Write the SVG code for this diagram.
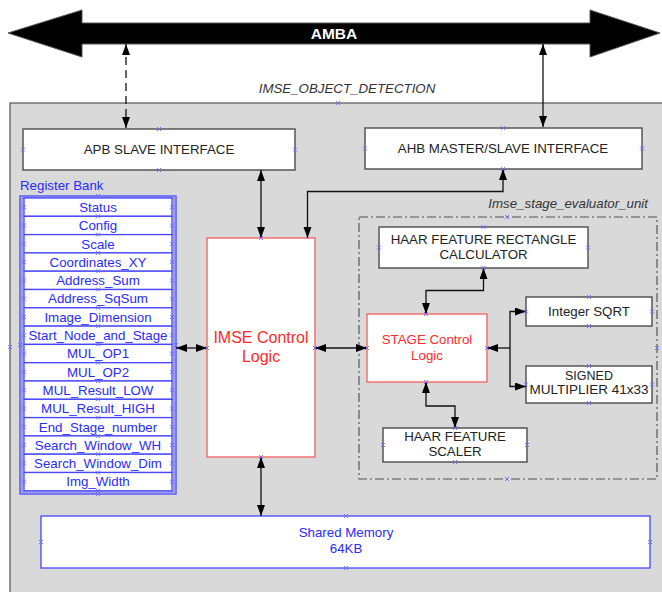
<svg xmlns="http://www.w3.org/2000/svg" xmlns:xlink="http://www.w3.org/1999/xlink" width="662" height="592" viewBox="0 0 662 592">
<style>
.box{fill:#fff;stroke:#555;stroke-width:1.5}
.red{fill:#fff;stroke:#f07070;stroke-width:1.5}
.blu{fill:#fff;stroke:#4646ff;stroke-width:1.3}
.t{font-family:"Liberation Sans",Arial,sans-serif;font-size:13.3px;fill:#222;text-anchor:middle}
.tb{font-family:"Liberation Sans",Arial,sans-serif;font-size:13.3px;fill:#2a2aff;text-anchor:middle}
.tr{font-family:"Liberation Sans",Arial,sans-serif;fill:#ff2a2a;text-anchor:middle}
.it{font-family:"Liberation Sans",Arial,sans-serif;font-size:13.3px;font-style:italic;fill:#333}
.c{fill:none;stroke:#111;stroke-width:1.3;marker-start:url(#ah);marker-end:url(#ah)}
.c1{fill:none;stroke:#111;stroke-width:1.3;marker-end:url(#ah)}
.cpx{fill:none;stroke:#6a6aff;stroke-width:0.9}
</style>
<defs>
<marker id="ah" markerUnits="userSpaceOnUse" markerWidth="12" markerHeight="9" refX="11" refY="4" orient="auto-start-reverse" viewBox="0 0 12 9">
<path d="M0,0 L11,4 L0,8 z" fill="#000"/>
</marker>
<path id="cp" class="cpx" d="M-2,-2L2,2M-2,2L2,-2"/>
</defs>

<g id="amba">
<polygon points="8,33 82,10 82,23 590,23 590,10 660,33 590,57 590,44 82,44 82,57" fill="#000" stroke="#555" stroke-width="1"/>
<text x="334" y="39" font-family="Liberation Sans,Arial,sans-serif" font-size="15.5" font-weight="bold" fill="#fff" text-anchor="middle">AMBA</text>
</g>

<g id="imse_object_detection">
<rect x="10" y="103" width="660" height="490" fill="#d9d9d9" stroke="#555" stroke-width="1.2"/>
<text class="it" x="347" y="93" text-anchor="middle">IMSE_OBJECT_DETECTION</text>
</g>

<g id="apb">
<rect class="box" x="23" y="129" width="272" height="41"/>
<text class="t" x="159" y="154">APB SLAVE INTERFACE</text>
</g>

<g id="ahb">
<rect class="box" x="365" y="128" width="277" height="41"/>
<text class="t" x="503" y="153">AHB MASTER/SLAVE INTERFACE</text>
</g>

<g id="register_bank">
<text x="20" y="190" font-family="Liberation Sans,Arial,sans-serif" font-size="13.3" fill="#2a2aff">Register Bank</text>
<rect x="20" y="196" width="156" height="298" fill="none" stroke="#4646ff" stroke-width="1.3"/>
<rect x="22" y="198" width="152" height="294" fill="none" stroke="#4646ff" stroke-width="0.8"/>
<g id="reg_status"><rect class="blu" x="24" y="198" width="148" height="18.3"/><text class="tb" x="98" y="211.9">Status</text></g>
<g id="reg_config"><rect class="blu" x="24" y="216.3" width="148" height="18.3"/><text class="tb" x="98" y="230.2">Config</text></g>
<g id="reg_scale"><rect class="blu" x="24" y="234.6" width="148" height="18.3"/><text class="tb" x="98" y="248.5">Scale</text></g>
<g id="reg_coord"><rect class="blu" x="24" y="252.9" width="148" height="18.3"/><text class="tb" x="98" y="266.8">Coordinates_XY</text></g>
<g id="reg_addrsum"><rect class="blu" x="24" y="271.2" width="148" height="18.3"/><text class="tb" x="98" y="285.1">Address_Sum</text></g>
<g id="reg_addrsq"><rect class="blu" x="24" y="289.5" width="148" height="18.3"/><text class="tb" x="98" y="303.4">Address_SqSum</text></g>
<g id="reg_imgdim"><rect class="blu" x="24" y="307.8" width="148" height="18.3"/><text class="tb" x="98" y="321.7">Image_Dimension</text></g>
<g id="reg_start"><rect class="blu" x="24" y="326.1" width="148" height="18.3"/><text class="tb" x="98" y="340">Start_Node_and_Stage</text></g>
<g id="reg_op1"><rect class="blu" x="24" y="344.4" width="148" height="18.3"/><text class="tb" x="98" y="358.3">MUL_OP1</text></g>
<g id="reg_op2"><rect class="blu" x="24" y="362.7" width="148" height="18.3"/><text class="tb" x="98" y="376.6">MUL_OP2</text></g>
<g id="reg_low"><rect class="blu" x="24" y="381" width="148" height="18.3"/><text class="tb" x="98" y="394.9">MUL_Result_LOW</text></g>
<g id="reg_high"><rect class="blu" x="24" y="399.3" width="148" height="18.3"/><text class="tb" x="98" y="413.2">MUL_Result_HIGH</text></g>
<g id="reg_end"><rect class="blu" x="24" y="417.6" width="148" height="18.3"/><text class="tb" x="98" y="431.5">End_Stage_number</text></g>
<g id="reg_swwh"><rect class="blu" x="24" y="435.9" width="148" height="18.3"/><text class="tb" x="98" y="449.8">Search_Window_WH</text></g>
<g id="reg_swdim"><rect class="blu" x="24" y="454.2" width="148" height="18.3"/><text class="tb" x="98" y="468.1">Search_Window_Dim</text></g>
<g id="reg_imgw"><rect class="blu" x="24" y="472.5" width="148" height="18.3"/><text class="tb" x="98" y="486.4">Img_Width</text></g>
</g>

<g id="imse_control">
<rect class="red" x="207" y="238" width="108" height="219"/>
<text class="tr" x="261" y="343" font-size="16">IMSE Control</text>
<text class="tr" x="261" y="361.5" font-size="16">Logic</text>
</g>

<g id="stage_evaluator">
<rect x="359" y="217" width="298" height="262" fill="none" stroke="#555" stroke-width="1.2" stroke-dasharray="9,3,2,3"/>
<text class="it" x="648" y="208" text-anchor="end">Imse_stage_evaluator_unit</text>
</g>

<g id="haar_rect">
<rect class="box" x="379" y="227" width="209" height="41"/>
<text class="t" x="483.5" y="243.5">HAAR FEATURE RECTANGLE</text>
<text class="t" x="483.5" y="258.5">CALCULATOR</text>
</g>

<g id="stage_control">
<rect class="red" x="367" y="314" width="120" height="68"/>
<text class="tr" x="427" y="344" font-size="13.3">STAGE Control</text>
<text class="tr" x="427" y="360" font-size="13.3">Logic</text>
</g>

<g id="sqrt">
<rect class="box" x="526" y="297" width="126" height="29"/>
<text class="t" x="589" y="316">Integer SQRT</text>
</g>

<g id="multiplier">
<rect class="box" x="526" y="366" width="126" height="37"/>
<text class="t" x="589" y="379.5" style="font-size:12.5px">SIGNED</text>
<text class="t" x="589" y="394" style="font-size:12.5px" textLength="119" lengthAdjust="spacingAndGlyphs">MULTIPLIER 41x33</text>
</g>

<g id="haar_scaler">
<rect class="box" x="383" y="428" width="144" height="34"/>
<text class="t" x="455" y="441">HAAR FEATURE</text>
<text class="t" x="455" y="456">SCALER</text>
</g>

<g id="shared_memory">
<rect class="blu" x="41" y="516" width="609" height="52" stroke-width="1.5"/>
<text class="tb" x="346" y="537">Shared Memory</text>
<text class="tb" x="346" y="553">64KB</text>
</g>

<g id="connectors">
<path class="c" d="M126,44 V128" stroke-dasharray="8,5"/>
<path class="c" d="M543,44 V127"/>
<path class="c" d="M261,170 V238"/>
<path class="c" d="M503,169 V191.5 H307.5 V238"/>
<path class="c" d="M176,348 H207"/>
<path class="c" d="M315,348 H367"/>
<path class="c" d="M483.5,268 V290.5 H426 V314"/>
<path class="c" d="M426,382 V406 H455 V428"/>
<path class="c1" d="M510,348 H487"/>
<path class="c1" d="M510,348 V311.5 H526"/>
<path class="c1" d="M510,348 V386.5 H526"/>
<path class="c" d="M261,457 V516"/>
</g>

<g id="connection_points">
<use xlink:href="#cp" x="338" y="103"/><use xlink:href="#cp" x="10" y="347"/>
<use xlink:href="#cp" x="159" y="129"/><use xlink:href="#cp" x="159" y="170"/><use xlink:href="#cp" x="23" y="149.5"/><use xlink:href="#cp" x="295" y="149.5"/>
<use xlink:href="#cp" x="503" y="128"/><use xlink:href="#cp" x="503" y="169"/><use xlink:href="#cp" x="365" y="148.5"/><use xlink:href="#cp" x="642" y="148.5"/>
<use xlink:href="#cp" x="261" y="238"/><use xlink:href="#cp" x="261" y="457"/><use xlink:href="#cp" x="207" y="348"/><use xlink:href="#cp" x="315" y="348"/>
<use xlink:href="#cp" x="507" y="217"/><use xlink:href="#cp" x="507" y="479"/><use xlink:href="#cp" x="657" y="348"/>
<use xlink:href="#cp" x="483.5" y="227"/><use xlink:href="#cp" x="483.5" y="268"/><use xlink:href="#cp" x="379" y="247.5"/><use xlink:href="#cp" x="588" y="247.5"/>
<use xlink:href="#cp" x="426" y="314"/><use xlink:href="#cp" x="426" y="382"/><use xlink:href="#cp" x="367" y="348"/><use xlink:href="#cp" x="487" y="348"/>
<use xlink:href="#cp" x="589" y="297"/><use xlink:href="#cp" x="589" y="326"/><use xlink:href="#cp" x="526" y="311.5"/><use xlink:href="#cp" x="652" y="311.5"/>
<use xlink:href="#cp" x="589" y="366"/><use xlink:href="#cp" x="589" y="403"/><use xlink:href="#cp" x="526" y="384.5"/><use xlink:href="#cp" x="652" y="384.5"/>
<use xlink:href="#cp" x="455" y="428"/><use xlink:href="#cp" x="455" y="462"/><use xlink:href="#cp" x="383" y="445"/><use xlink:href="#cp" x="527" y="445"/>
<use xlink:href="#cp" x="346" y="516"/><use xlink:href="#cp" x="346" y="568"/><use xlink:href="#cp" x="41" y="542"/><use xlink:href="#cp" x="650" y="542"/>
<use xlink:href="#cp" x="98" y="196"/><use xlink:href="#cp" x="98" y="494"/><use xlink:href="#cp" x="20" y="345"/><use xlink:href="#cp" x="176" y="345"/>
<use xlink:href="#cp" x="98" y="216.3"/><use xlink:href="#cp" x="98" y="234.6"/><use xlink:href="#cp" x="98" y="252.9"/><use xlink:href="#cp" x="98" y="271.2"/><use xlink:href="#cp" x="98" y="289.5"/><use xlink:href="#cp" x="98" y="307.8"/><use xlink:href="#cp" x="98" y="326.1"/><use xlink:href="#cp" x="98" y="344.4"/><use xlink:href="#cp" x="98" y="362.7"/><use xlink:href="#cp" x="98" y="381"/><use xlink:href="#cp" x="98" y="399.3"/><use xlink:href="#cp" x="98" y="417.6"/><use xlink:href="#cp" x="98" y="435.9"/><use xlink:href="#cp" x="98" y="454.2"/><use xlink:href="#cp" x="98" y="472.5"/><use xlink:href="#cp" x="98" y="490.8"/>
<use xlink:href="#cp" x="24" y="207.2"/><use xlink:href="#cp" x="24" y="225.5"/><use xlink:href="#cp" x="24" y="243.8"/><use xlink:href="#cp" x="24" y="262.1"/><use xlink:href="#cp" x="24" y="280.4"/><use xlink:href="#cp" x="24" y="298.7"/><use xlink:href="#cp" x="24" y="317"/><use xlink:href="#cp" x="24" y="335.3"/><use xlink:href="#cp" x="24" y="353.6"/><use xlink:href="#cp" x="24" y="371.9"/><use xlink:href="#cp" x="24" y="390.2"/><use xlink:href="#cp" x="24" y="408.5"/><use xlink:href="#cp" x="24" y="426.8"/><use xlink:href="#cp" x="24" y="445.1"/><use xlink:href="#cp" x="24" y="463.4"/><use xlink:href="#cp" x="24" y="481.7"/>
<use xlink:href="#cp" x="172" y="207.2"/><use xlink:href="#cp" x="172" y="225.5"/><use xlink:href="#cp" x="172" y="243.8"/><use xlink:href="#cp" x="172" y="262.1"/><use xlink:href="#cp" x="172" y="280.4"/><use xlink:href="#cp" x="172" y="298.7"/><use xlink:href="#cp" x="172" y="317"/><use xlink:href="#cp" x="172" y="335.3"/><use xlink:href="#cp" x="172" y="353.6"/><use xlink:href="#cp" x="172" y="371.9"/><use xlink:href="#cp" x="172" y="390.2"/><use xlink:href="#cp" x="172" y="408.5"/><use xlink:href="#cp" x="172" y="426.8"/><use xlink:href="#cp" x="172" y="445.1"/><use xlink:href="#cp" x="172" y="463.4"/><use xlink:href="#cp" x="172" y="481.7"/>
</g>
</svg>
